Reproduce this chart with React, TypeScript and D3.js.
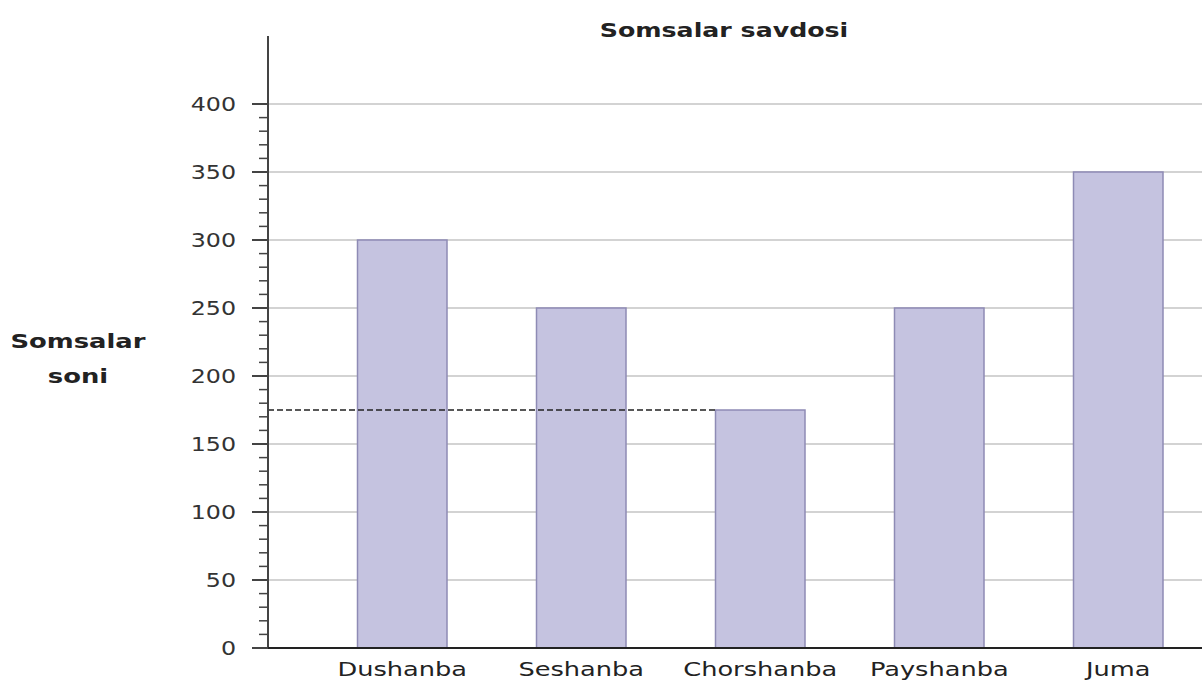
import React from "react";
import * as d3 from "d3";

const categories = ["Dushanba", "Seshanba", "Chorshanba", "Payshanba", "Juma"];
const values = [300, 250, 175, 250, 350];
const yTicks = [0, 50, 100, 150, 200, 250, 300, 350, 400];
const refValue = 175;
const refCategory = "Chorshanba";
const title = "Somsalar savdosi";
const yLabel = ["Somsalar", "soni"];

const font = "'DejaVu Sans', sans-serif";

function SText({ x, y, sx, anchor, bold, fill, children, dy }: any) {
  return (
    <g transform={`translate(${x},${y}) scale(${sx},1)`}>
      <text x={0} y={0} dy={dy} textAnchor={anchor} fontFamily={font} fontSize={19}
        fontWeight={bold ? "bold" : "normal"} fill={fill}>{children}</text>
    </g>
  );
}

export default function App() {
  const W = 1202, H = 686;
  const x0 = 268;
  const y = d3.scaleLinear().domain([0, 400]).range([648, 104]);
  const x = d3.scaleBand<string>().domain(categories).range([x0, x0 + 179 * 5.5]).paddingInner(0.5).paddingOuter(0.5);
  const minor = d3.range(0, 410, 10).filter((v) => v % 50 !== 0);
  return (
    <svg width={W} height={H} style={{ position: "absolute", left: 0, top: 0, background: "#fff" }}>
      {yTicks.filter((t) => t > 0).map((t) => (
        <line key={"g" + t} x1={x0} x2={W} y1={y(t)} y2={y(t)} stroke="#c4c4c4" strokeWidth={1.5} />
      ))}
      {categories.map((c, i) => (
        <rect key={c} x={x(c)!} y={y(values[i])} width={x.bandwidth()} height={y(0) - y(values[i])}
          fill="#c5c3e0" stroke="#8e8bb5" strokeWidth={1.5} />
      ))}
      <line x1={x0} x2={x(refCategory)!} y1={y(refValue)} y2={y(refValue)} stroke="#222" strokeWidth={1.3} strokeDasharray="6,3" />
      <line x1={x0} x2={x0} y1={36} y2={y(0)} stroke="#444" strokeWidth={2} />
      <line x1={252} x2={W} y1={y(0)} y2={y(0)} stroke="#222" strokeWidth={2} />
      {yTicks.map((t) => (
        <g key={"t" + t}>
          <line x1={252} x2={x0} y1={y(t)} y2={y(t)} stroke="#444" strokeWidth={2} />
          <SText x={236} y={y(t)} dy="0.36em" sx={1.25} anchor="end" fill="#333">{t}</SText>
        </g>
      ))}
      {minor.map((t) => (
        <line key={"m" + t} x1={259} x2={x0} y1={y(t)} y2={y(t)} stroke="#444" strokeWidth={1.5} />
      ))}
      {categories.map((c) => (
        <SText key={"l" + c} x={x(c)! + x.bandwidth() / 2} y={676} sx={1.35} anchor="middle" fill="#222">{c}</SText>
      ))}
      <SText x={724} y={37} sx={1.33} anchor="middle" bold fill="#222">{title}</SText>
      <SText x={78} y={348} sx={1.36} anchor="middle" bold fill="#222">{yLabel[0]}</SText>
      <SText x={78} y={383} sx={1.36} anchor="middle" bold fill="#222">{yLabel[1]}</SText>
    </svg>
  );
}
